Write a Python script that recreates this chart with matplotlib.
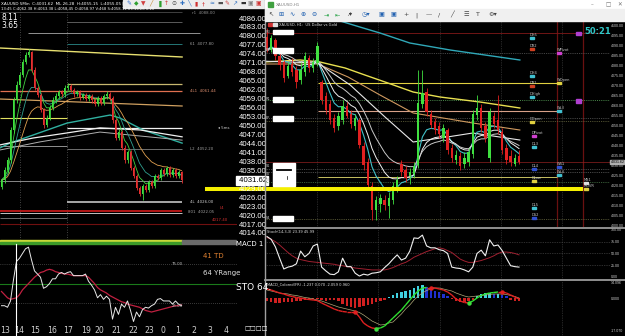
import matplotlib
matplotlib.use('Agg')
import matplotlib.pyplot as plt
import numpy as np
import pandas as pd
from matplotlib.patches import Rectangle
from matplotlib.lines import Line2D
from matplotlib.collections import LineCollection
import matplotlib.transforms as mtrans

plt.rcParams['font.family'] = ['DejaVu Sans']

W, H = 625, 336

# ======================= DATA =======================
# ---- left window: XAUUSD M5 ----
left_open = [4029.5, 4031.7, 4035.1, 4038.4, 4048.5, 4058.5, 4063.6, 4066.9, 4071.3, 4073.6,
             4074.6, 4068.6, 4062.6, 4060.2, 4055.2, 4050.2, 4052.5, 4055.9, 4058.5, 4059.9,
             4061.2, 4060.5, 4062.6, 4063.2, 4061.9, 4060.5, 4061.2, 4059.5, 4060.2, 4058.9,
             4059.9, 4058.5, 4057.2, 4059.2, 4057.5, 4059.9, 4060.5, 4059.2, 4051.8, 4045.8,
             4047.8, 4042.5, 4038.4, 4041.1, 4035.8, 4033.1, 4029.1, 4027.1, 4029.7, 4028.4,
             4031.1, 4029.7, 4033.1, 4032.4, 4035.1, 4033.8, 4035.8, 4033.4, 4035.1, 4033.1, 4034.4]
left_close = [4031.7, 4035.1, 4038.4, 4048.5, 4058.5, 4063.6, 4066.9, 4071.3, 4073.6, 4074.6,
              4068.6, 4062.6, 4060.2, 4055.2, 4050.2, 4052.5, 4055.9, 4058.5, 4059.9, 4061.2,
              4060.5, 4062.6, 4063.2, 4061.9, 4060.5, 4061.2, 4059.5, 4060.2, 4058.9, 4059.9,
              4058.5, 4057.2, 4059.2, 4057.5, 4059.9, 4060.5, 4059.2, 4051.8, 4045.8, 4047.8,
              4042.5, 4038.4, 4041.1, 4035.8, 4033.1, 4029.1, 4027.1, 4029.7, 4028.4, 4031.1,
              4029.7, 4033.1, 4032.4, 4035.1, 4033.8, 4035.8, 4033.4, 4035.1, 4033.1, 4034.4, 4031.6]
left_high = [4032.5, 4036.0, 4039.5, 4049.5, 4059.5, 4064.8, 4068.0, 4072.3, 4074.6, 4075.6,
             4075.0, 4069.5, 4063.3, 4060.8, 4055.8, 4053.4, 4056.8, 4059.4, 4060.8, 4062.0,
             4061.9, 4063.4, 4064.2, 4063.8, 4062.6, 4062.0, 4061.9, 4061.0, 4060.9, 4060.7,
             4060.6, 4059.3, 4060.0, 4059.9, 4060.6, 4061.5, 4061.2, 4059.9, 4052.5, 4048.7,
             4048.6, 4043.3, 4041.9, 4041.8, 4036.6, 4033.9, 4029.9, 4030.5, 4030.5, 4031.9,
             4031.9, 4033.9, 4033.9, 4035.9, 4035.9, 4036.6, 4036.4, 4035.9, 4035.9, 4035.2, 4034.9]
left_low = [4028.6, 4030.9, 4034.2, 4037.6, 4047.6, 4057.6, 4062.8, 4066.1, 4070.5, 4072.8,
            4067.8, 4061.8, 4059.4, 4054.4, 4049.2, 4049.6, 4051.8, 4055.1, 4057.7, 4059.1,
            4059.7, 4059.7, 4062.0, 4061.1, 4059.7, 4059.8, 4058.7, 4058.9, 4058.1, 4058.1,
            4057.7, 4056.4, 4056.6, 4056.7, 4056.8, 4059.0, 4058.4, 4051.0, 4045.0, 4045.0,
            4041.7, 4037.6, 4037.6, 4035.0, 4032.3, 4028.3, 4026.3, 4025.0, 4027.6, 4027.6,
            4028.9, 4028.9, 4031.6, 4031.6, 4033.0, 4033.0, 4032.6, 4032.6, 4032.3, 4032.3, 4030.8]
left_stoch_k = [22, 22, 20, 28, 55, 78, 82, 88, 94, 96,
                80, 66, 62, 58, 44, 46, 50, 56, 56, 62,
                64, 62, 64, 65, 60, 60, 60, 60, 62, 53,
                48, 42, 32, 36, 30, 34, 30, 5, 20, 11,
                24, 20, 28, 16, 2, 14, 8, 17, 20, 19,
                22, 24, 30, 31, 28, 28, 28, 24, 28, 24, 22]
left_stoch_d = [40, 36, 32, 30, 31, 32, 36, 42, 46, 50,
                54, 58, 61, 64, 65, 67, 68, 67, 65, 64,
                63, 62, 62, 61, 60, 60, 60, 60, 60, 58,
                54, 50, 45, 42, 40, 38, 35, 33, 31, 29,
                27, 26, 24, 23, 22, 21, 20, 18, 16, 15,
                14, 15, 16, 17, 18, 19, 20, 21, 22, 22, 23]
# long moving averages / trend lines of the left window (bar index, price)
left_ma_teal_idx = [-0.5, 2.8, 10.5, 21.8, 36.2, 39.5, 47.2, 60.2]
left_ma_teal = [4042.5, 4044.1, 4046.8, 4050.8, 4053.5, 4052.5, 4048.5, 4044.1]
left_ma_white_idx = [-0.5, 10.5, 21.8, 32.8, 46.2, 60.2]
left_ma_white = [4043.5, 4045.8, 4047.5, 4049.2, 4048.5, 4046.2]
left_ma_gray_idx = [-0.5, 12.8, 32.8, 60.2]
left_ma_gray = [4041.8, 4044.5, 4047.8, 4045.1]
left_trend_yellow = [4075.95, 4072.94]
left_trend_tan = [4058.87, 4056.53]
# horizontal levels: price, from bar, to bar, colour, width
left_levels = [
    (4088.00, -0.5, 60.2, '#4a4a4a', 0.6),
    (4084.66, 21.8, 60.2, '#6a6a6a', 0.6),
    (4080.98, 8.8, 66.2, '#a8a8a8', 0.6),
    (4077.29, 21.8, 60.2, '#2a8a8a', 0.6),
    (4063.90, 21.8, 60.2, '#c8b870', 0.9),
    (4061.55, -0.5, 60.2, '#e07050', 0.9),
    (4052.51, -0.5, 21.8, '#e0e060', 0.8),
    (4049.16, 21.8, 60.2, '#f0f0f0', 0.9),
    (4043.13, -0.5, 21.8, '#909090', 0.7),
    (4042.13, 21.8, 60.2, '#808080', 0.6),
    (4031.41, -0.5, 60.2, '#888888', 0.7),
    (4024.38, 21.8, 60.2, '#a8a8a8', 1.4),
    (4021.37, -0.5, 60.2, '#c01818', 1.3),
    (4020.70, -0.5, 60.2, '#e0e0e0', 0.6),
    (4019.02, -0.5, 21.8, '#808080', 0.6),
    (4017.01, -0.5, 78.5, '#701010', 0.8),
]
# 4032.00 is hidden behind the current-price box in the screenshot
left_price_ticks = [4086, 4083, 4080, 4077, 4074, 4071, 4068, 4065, 4062, 4059, 4056, 4053,
                    4050, 4047, 4044, 4041, 4038, 4035, 4029, 4026, 4023, 4020, 4017, 4014]
left_current_price = 4031.62
left_time_labels = ['13', '14', '15', '16', '17', '19', '20', '21', '22', '23', '0', '1', '2', '3', '4']
left_time_pos = [1.3, 5.8, 11.2, 16.8, 22.2, 28.2, 32.5, 38.2, 43.8, 49.2, 53.8, 58.8, 64.2, 69.5, 74.8]

# ---- right window: XAUUSD H1 ----
right_open = [4094.1, 4087.6, 4092.6, 4084.6, 4081.6, 4074.6, 4080.6, 4077.6, 4072.6, 4076.6,
              4083.6, 4078.6, 4081.1, 4071.6, 4064.6, 4060.6, 4053.6, 4049.6, 4052.6, 4059.6,
              4055.6, 4049.6, 4052.6, 4039.6, 4031.6, 4019.6, 4007.6, 4010.6, 4012.6, 4009.6,
              4012.6, 4018.6, 4030.6, 4027.6, 4024.6, 4025.6, 4030.1, 4060.6, 4066.6, 4055.6,
              4051.6, 4049.6, 4043.6, 4047.6, 4038.6, 4032.6, 4034.6, 4030.6, 4031.6, 4035.6,
              4055.1, 4058.6, 4049.6, 4033.6, 4054.6, 4052.6, 4046.6, 4038.6, 4034.6, 4030.6, 4034.6]
right_close = [4087.6, 4093.6, 4084.6, 4080.1, 4073.6, 4079.6, 4076.6, 4071.6, 4077.6, 4084.6,
               4078.6, 4081.6, 4089.6, 4062.6, 4057.6, 4052.6, 4048.6, 4054.6, 4059.6, 4054.6,
               4050.6, 4053.6, 4040.1, 4030.1, 4020.1, 4007.6, 4012.6, 4013.6, 4010.1, 4013.6,
               4019.6, 4022.6, 4026.6, 4023.6, 4026.6, 4029.6, 4061.1, 4066.1, 4056.6, 4050.1,
               4047.6, 4045.6, 4048.6, 4037.6, 4033.6, 4035.1, 4029.6, 4033.6, 4036.6, 4055.6,
               4058.6, 4048.6, 4043.6, 4056.6, 4050.6, 4047.6, 4037.6, 4032.6, 4031.6, 4033.6, 4031.6]
right_high = [4098.6, 4095.1, 4093.6, 4086.6, 4082.6, 4081.6, 4083.6, 4079.6, 4081.6, 4086.6,
              4085.1, 4083.6, 4091.6, 4072.6, 4066.6, 4062.6, 4055.6, 4056.6, 4062.6, 4061.6,
              4057.6, 4055.6, 4053.6, 4041.6, 4033.6, 4021.6, 4014.6, 4015.6, 4015.1, 4016.6,
              4021.6, 4024.6, 4032.6, 4029.6, 4028.6, 4031.6, 4077.6, 4077.6, 4068.6, 4057.6,
              4053.6, 4051.6, 4050.6, 4048.6, 4040.6, 4037.6, 4036.6, 4036.6, 4038.6, 4057.6,
              4065.1, 4060.6, 4051.6, 4058.6, 4056.6, 4065.1, 4048.6, 4040.6, 4037.6, 4035.6, 4037.6]
right_low = [4086.6, 4086.6, 4082.6, 4077.6, 4071.6, 4073.6, 4074.6, 4068.6, 4070.6, 4074.6,
             4076.6, 4076.6, 4079.6, 4060.6, 4055.6, 4050.6, 4046.6, 4047.6, 4050.6, 4053.6,
             4048.6, 4047.6, 4038.6, 4027.6, 4017.6, 4002.6, 4002.6, 4006.6, 4007.6, 4003.6,
             4010.6, 4016.6, 4024.6, 4021.6, 4020.6, 4023.6, 4028.6, 4058.6, 4054.6, 4048.6,
             4045.6, 4043.6, 4041.6, 4035.6, 4031.6, 4030.6, 4027.6, 4028.6, 4029.6, 4033.6,
             4052.6, 4046.6, 4041.6, 4031.6, 4048.6, 4045.6, 4035.6, 4030.6, 4029.6, 4029.6, 4030.6]
right_ma_teal_idx = [17.4, 22.1, 26.9, 34.0, 43.6, 60.2]
right_ma_teal = [4102.1, 4099.1, 4096.1, 4091.1, 4087.6, 4082.6]
right_ma_yellow_idx = [-0.5, 7.9, 12.6, 18.6, 23.3, 28.1, 34.8, 41.2, 50.7, 60.2]
right_ma_yellow = [4081.6, 4082.6, 4081.6, 4078.6, 4075.1, 4071.6, 4066.6, 4064.1, 4061.6, 4058.6]
right_ma_tan_idx = [-0.5, 12.1, 19.3, 26.9, 34.8, 49.0, 60.2]
right_ma_tan = [4080.6, 4080.6, 4074.1, 4065.1, 4056.1, 4051.1, 4047.6]
right_ma_white_idx = [-0.5, 12.1, 19.8, 28.1, 34.8, 42.9, 49.0, 60.2]
right_ma_white = [4082.0, 4081.1, 4070.1, 4054.1, 4041.6, 4044.1, 4046.1, 4042.6]
# horizontal levels: price, from bar, to bar, colour, width, dotted
right_levels = [
    (4096.1, -0.5, 82.2, '#801818', 0.6, False),
    (4086.1, -0.5, 82.2, '#5a5a5a', 0.6, True),
    (4071.1, 12.1, 69.0, '#e0d040', 0.8, False),
    (4062.6, -0.5, 82.2, '#4a8a4a', 0.7, True),
    (4057.1, 12.1, 69.0, '#d8a088', 0.8, False),
    (4053.6, -0.5, 82.2, '#5a5a5a', 0.6, True),
    (4052.1, -0.5, 82.2, '#6a6a40', 0.6, True),
    (4031.6, -0.5, 82.2, '#902020', 0.5, False),
    (4028.1, -0.5, 82.2, '#606060', 0.6, True),
    (4026.6, -0.5, 82.2, '#606060', 0.6, True),
    (4024.1, 12.1, 69.0, '#c8c060', 0.7, False),
    (4021.6, -0.5, 82.2, '#4a7a4a', 0.6, True),
    (4003.1, -0.5, 82.2, '#6a6a40', 0.6, True),
]
right_yellow_level = 4018.1
right_stoch_k = [86, 80, 64, 40, 17, 21, 23, 28, 55, 43,
                 50, 66, 70, 21, 13, 6, 5, 11, 40, 22,
                 22, 8, 2, 6, 4, 8, 9, 11, 20, 28,
                 38, 47, 36, 40, 55, 83, 82, 89, 66, 62,
                 62, 58, 56, 50, 21, 19, 18, 15, 11, 21,
                 50, 57, 45, 79, 66, 68, 56, 40, 24, 22, 21]
right_stoch_d = [84, 80, 75, 68, 60, 52, 45, 40, 37, 35,
                 33, 32, 31, 30, 29, 28, 27, 25, 24, 22,
                 21, 19, 18, 17, 16, 15, 15, 15, 15, 17,
                 20, 24, 28, 31, 36, 42, 46, 50, 54, 57,
                 60, 62, 60, 56, 52, 45, 38, 34, 31, 31,
                 33, 35, 38, 41, 45, 50, 53, 53, 52, 50, 47]
macd_hist = [-3, -4, -5, -5, -4, -4, -4, -3, -3, -2,
             -1, -0.5, -1, -2, -3, -2, -2, -3, -6, -8,
             -9, -10, -9, -8, -7, -6, -4, -3, -2, 1,
             3, 5, 6, 7, 8, 10, 12, 13, 11, 9,
             7, 6, 4, 2, -1, -3, -4, -4, -3, -2,
             2, 4, 5, 5, 4, 4, 3, 2, -2, -3, -3]
macd_main = [9, 8, 6.5, 5, 4, 2.5, 1.5, 0.5, 0, -1,
             -1.5, -2, -2.5, -5, -7, -9, -11, -12.5, -13.5, -14,
             -14, -14, -19, -25, -28, -30, -30.5, -30, -28, -24,
             -20, -16, -12, -7, -2, 3, 7, 10, 10.5, 10.5,
             10, 9, 8, 6, 3, -1, -3, -4.5, -5, -3,
             0, 2.5, 4, 5, 5.5, 6, 6, 5, 3, 1, -1]
macd_signal = [8, 7, 6, 5, 4.5, 4, 3, 2.5, 1.5, 0.5,
               0, -1, -2, -3, -4.5, -6, -7.5, -9, -10, -11,
               -12, -13, -14.5, -17, -20, -23, -25, -27, -26.5, -25,
               -24, -20, -16, -11, -7, -2, 2, 5, 7.5, 9,
               10, 10, 9, 8, 7, 5, 3.5, 2, 1, 1.5,
               2, 2.5, 3, 3.5, 4, 4, 4, 3.5, 2.5, 1.5, 0]
right_price_ticks = list(range(4000, 4101, 5))
right_grid_idx = [11.9, 26.4, 41.2, 55.7, 70.2]
right_vlines_red = [69.05, 75.2]

# ======================= HELPERS =======================
fig = plt.figure(figsize=(6.25, 3.36), dpi=100, facecolor='black')


def fr(x0, y0, x1, y1):
    return [x0 / W, 1 - y1 / H, (x1 - x0) / W, (y1 - y0) / H]


def ftext(x, y, s, **kw):
    kw.setdefault('va', 'center')
    kw.setdefault('ha', 'left')
    fig.text(x / W, 1 - y / H, s, **kw)


def frect(x0, y0, x1, y1, **kw):
    fig.add_artist(Rectangle((x0 / W, 1 - y1 / H), (x1 - x0) / W, (y1 - y0) / H,
                             transform=fig.transFigure, **kw))


def fline(xs, ys, **kw):
    fig.add_artist(Line2D([x / W for x in xs], [1 - y / H for y in ys],
                          transform=fig.transFigure, **kw))


def clean(ax):
    ax.set_facecolor('none')
    for s in ax.spines.values():
        s.set_visible(False)
    ax.tick_params(length=0)
    ax.set_xticks([])
    ax.set_yticks([])


def candles(ax, o, h, l, c, up, dn, width, lw):
    o, h, l, c = map(np.asarray, (o, h, l, c))
    idx = np.arange(len(c))
    col = np.where(c >= o, up, dn)
    ax.vlines(idx, l, h, colors=col, lw=lw, zorder=4)
    body = np.maximum(np.abs(c - o), 0.3)
    ax.bar(idx, body, bottom=np.minimum(o, c), width=width, color=col, lw=0, zorder=4)


PRICE_FONT = ['Liberation Sans Narrow', 'Liberation Sans', 'DejaVu Sans']
SMALL_FONT = ['Liberation Sans', 'DejaVu Sans']
RX1 = 610   # right edge of the right-window plotting area (pixels)

# ======================= LEFT WINDOW =======================
axL = fig.add_axes(fr(0, 8, 237, 240))
clean(axL)
axL.set_xlim(-0.5, 78.5)
axL.set_ylim(4011.65, 4089.35)
axL.yaxis.tick_right()
axL.set_yticks(left_price_ticks)
axL.set_yticklabels([f"{v:.2f}" for v in left_price_ticks])
axL.tick_params(axis='y', length=0, pad=1.2, labelcolor='white', labelsize=5.6)
for t in axL.get_yticklabels():
    t.set_family(PRICE_FONT)

for xv in [6.2, 21.8]:
    axL.axvline(xv, color='#5a5a5a', lw=0.6, ls=(0, (1, 2)), zorder=1)
for p, a, b, col, lw in left_levels:
    axL.hlines(p, a, b, color=col, lw=lw, zorder=2)
axL.plot([-0.5, 60.2], left_trend_yellow, color='#e8e070', lw=1.0, zorder=2)
axL.plot([-0.5, 60.2], left_trend_tan, color='#d0a060', lw=0.9, zorder=2)
axL.plot(left_ma_teal_idx, left_ma_teal, color='#30b0a0', lw=1.0, zorder=3)
axL.plot(left_ma_white_idx, left_ma_white, color='#f0f0f0', lw=0.9, zorder=3)
axL.plot(left_ma_gray_idx, left_ma_gray, color='#b0b0b0', lw=0.7, zorder=3)
lc = pd.Series(left_close)
xi = np.arange(len(left_close))
axL.plot(xi, lc.ewm(span=5, adjust=False).mean(), color='#40d040', lw=0.6, zorder=3)
axL.plot(xi, lc.ewm(span=9, adjust=False).mean(), color='#30a090', lw=0.6, zorder=3)
axL.plot(xi, lc.ewm(span=16, adjust=False).mean(), color='#e0a050', lw=0.6, zorder=3)
candles(axL, left_open, left_high, left_low, left_close, '#3ee03e', '#e83030', 0.6, 0.6)
axL.text(1.0, left_current_price, f' {left_current_price:.2f}',
         transform=mtrans.blended_transform_factory(axL.transAxes, axL.transData),
         fontsize=5.6, color='black', va='center', ha='left', family=PRICE_FONT,
         bbox=dict(boxstyle='square,pad=0.1', fc='white', ec='white'), zorder=10, clip_on=False)

# left level labels
for (x, y, s, c) in [(192, 13, 'r1  4088.00', '#909090'), (190, 44, '61  4077.80', '#a0a0a0'),
                     (190, 91, '4L1  4061.44', '#e09070'), (190, 149, 'L2  4052.20', '#a0a0a0'),
                     (190, 202, '4L  4026.00', '#d0d0d0'), (188, 212, '801  4022.05', '#a0a0a0'),
                     (220, 208, 'L4', '#d03030'), (212, 220, '4017.40', '#d03030'),
                     (218, 128, '◂ 5ms', '#d0d0d0')]:
    ftext(x, y, s, fontsize=2.8, color=c)

# header
ftext(1, 3.5, 'XAUUSD 5Min  C:4031.62  ML 26.28  H:4055.15  L:4055.05 |', fontsize=3.0, color='white')
ftext(1, 9.5, '13:45 C:4062.38 H:4063.38 L:4058.45 O:4058.97 V:468 S:4058.11 07/19/26 0.20',
      fontsize=2.7, color='white')
ftext(1, 17, '8.11', fontsize=5.5, color='white')
ftext(1, 25, '3.65', fontsize=5.5, color='white')
frect(123, 0, 264, 7.5, color='#ececec', zorder=2)
for k, (g, c) in enumerate([('✎', '#2a6ad0'), ('◆', '#30a030'), ('▼', '#d04040'), ('╱', '#c08020'),
                            ('▐', '#30a030'), ('↑', '#d03030'), ('⊙', '#404040'), ('✚', '#3070c0'),
                            ('╲', '#3070c0'), ('▮', '#d03030'), ('†', '#d03030'), ('≈', '#3070c0'),
                            ('▬', '#505050'), ('✎', '#d04040'), ('↗', '#3070c0'), ('▬', '#303030'),
                            ('▣', '#808080'), ('▣', '#d03030')]):
    ftext(126 + k * 7.6, 3.8, g, fontsize=4.2, color=c, zorder=3)

# left stochastic
axLS = fig.add_axes(fr(0, 244, 237, 325))
clean(axLS)
axLS.set_xlim(-0.5, 78.5)
axLS.set_ylim(-2.4, 100)
axLS.axhline(75, color='#707070', lw=0.5, ls=(0, (1, 2)))
axLS.axhline(25, color='#707070', lw=0.5, ls=(0, (1, 2)))
axLS.axhline(50, color='#1a7a1a', lw=0.8)
axLS.plot(np.arange(len(left_stoch_d)), left_stoch_d, color='#c02040', lw=0.9)
axLS.plot(np.arange(len(left_stoch_k)), left_stoch_k, color='#e8e8e8', lw=0.7)
axLS.set_xticks(left_time_pos)
axLS.set_xticklabels(left_time_labels)
axLS.tick_params(axis='x', length=0, pad=0.8, labelcolor='#d0d0d0', labelsize=5.6)
ftext(172, 264, '75.00', fontsize=2.8, color='#c0c0c0')
ftext(172, 306, '25.00', fontsize=2.8, color='#c0c0c0')
ftext(203, 256, '41 TD', fontsize=5, color='#e08030')
ftext(203, 273, '64 YRange', fontsize=5, color='#e0e0e0')
ftext(236, 288, 'STO 64.', fontsize=6.5, color='white')
ftext(236, 243.5, 'MACD 1', fontsize=5, color='white')
ftext(244, 329, '□□□□', fontsize=4.5, color='white')
frect(0, 239.5, 182, 241.5, color='#c8d838', zorder=2)
frect(0, 241.5, 182, 244, color='#3c9a28', zorder=2)
frect(182, 239.5, 236, 244, color='#6a6a6a', zorder=2)
fline([16, 16], [244, 336], color='white', lw=0.8)

# ======================= RIGHT WINDOW =======================
fline([264.5, 264.5], [0, 336], color='#a0a0a0', lw=1.0)
frect(265, 0, 625, 9, color='white', zorder=2)
frect(267.5, 2, 272.5, 7, color='#40a040', zorder=3)
ftext(276, 4.5, 'XAUUSD,H1', fontsize=3, color='#808080', zorder=3)
for x, g in [(591, '–'), (605, '□'), (617, '✕')]:
    ftext(x, 4.5, g, fontsize=4, color='#707070', zorder=3)
frect(265, 9, 625, 21, color='#f0f0f0', zorder=2)
for x, g, c in [(268, '↖', '#404040'), (278, '⊞', '#2060b0'), (289, '∿', '#2060b0'), (300, '⊕', '#2060b0'),
                (311, '⊖', '#2060b0'), (324, '⇥', '#20a040'), (335, '⇤', '#20a040'), (348, '⁄▾', '#404040'),
                (362, '◷▾', '#2060b0'), (378, '▣', '#2060b0'), (390, '▣', '#2060b0'), (403, '+', '#404040'),
                (415, '|', '#404040'), (426, '—', '#404040'), (438, '/', '#404040'), (450, '╱', '#404040'),
                (463, '☰', '#404040'), (476, 'T', '#404040'), (488, '⚙▾', '#404040')]:
    ftext(x, 15, g, fontsize=4.5, color=c, zorder=3)

XR = (-0.476, -0.476 + (RX1 - 265) / 4.2)
axR = fig.add_axes(fr(265, 21, RX1, 227))
clean(axR)
axR.set_xlim(*XR)
axR.set_ylim(3999.1, 4102.1)
axR.yaxis.tick_right()
axR.set_yticks(right_price_ticks)
axR.set_yticklabels([f"{v:.2f}" for v in right_price_ticks])
axR.tick_params(axis='y', length=0, pad=0.8, labelcolor='#d0d0d0', labelsize=2.6)
for t in axR.get_yticklabels():
    t.set_family(SMALL_FONT)
for xv in right_grid_idx:
    axR.axvline(xv, color='#4a4a4a', lw=0.5, ls=(0, (1, 1.5)), zorder=1)
for xv in right_vlines_red:
    axR.axvline(xv, color='#6a1010', lw=0.9, zorder=1)
for p, a, b, col, lw, dot in right_levels:
    axR.hlines(p, a, b, color=col, lw=lw, ls=(0, (1, 1.2)) if dot else '-', zorder=2)
axR.plot(right_ma_teal_idx, right_ma_teal, color='#30a8b8', lw=1.0, zorder=3)
axR.plot(right_ma_yellow_idx, right_ma_yellow, color='#e8e050', lw=1.0, zorder=3)
axR.plot(right_ma_tan_idx, right_ma_tan, color='#d09a60', lw=0.8, zorder=3)
axR.plot(right_ma_white_idx, right_ma_white, color='#e8e8e8', lw=0.8, zorder=3)
rc = pd.Series(right_close)
ri = np.arange(len(right_close))
axR.plot(ri, rc.ewm(span=6, adjust=False).mean(), color='#40c0c8', lw=0.8, zorder=3)
axR.plot(ri, rc.ewm(span=10, adjust=False).mean(), color='#f0f0f0', lw=0.7, zorder=3)
axR.plot(ri, rc.ewm(span=16, adjust=False).mean(), color='#c8c8c8', lw=0.7, zorder=3)
candles(axR, right_open, right_high, right_low, right_close, '#40e040', '#e02020', 0.55, 0.6)
axR.hlines(right_yellow_level, -0.5, 75.2, color='#f5f000', lw=2.9, zorder=6)
fline([207, 265], [189, 189], color='#f5f000', lw=2.9, zorder=-1)
axR.text(1.0, 4031.6, ' 4031.62', transform=mtrans.blended_transform_factory(axR.transAxes, axR.transData),
         fontsize=2.6, color='black', va='center', ha='left', zorder=10, clip_on=False, family=SMALL_FONT,
         bbox=dict(boxstyle='square,pad=0.12', fc='#b0b0b0', ec='#b0b0b0'))

# left label boxes in right chart
for (y0, y1) in [(30, 34), (48, 53), (97, 102), (116, 121), (216, 221)]:
    frect(273, y0, 293, y1, color='white', zorder=5)
frect(273, 163, 295, 186, color='white', zorder=5)
fline([277, 291], [170, 170], color='black', lw=1.3, zorder=6)
fline([287, 287], [176, 179], color='black', lw=0.5, zorder=6)
for y, s in [(32, 'R3'), (50, 'R2'), (99, 'R1'), (118, 'PP'), (166, 'S1'), (174, 'S2'), (180, 'S3'), (218, 'S4')]:
    ftext(266, y, s, fontsize=2.5, color='#c0c0c0', zorder=5)
frect(268, 22.5, 272, 26, color='#d03030', zorder=5)
frect(273, 22.5, 277, 26, color='#e0e0e0', zorder=5)
ftext(279, 24.5, 'XAUUSD, H1:  US Dollar vs Gold', fontsize=2.6, color='#e0e0e0', zorder=5)

# right level labels with markers
for x, y, s, c in [(530, 35, 'DH5', '#40c0d0'), (530, 46, 'DR2', '#d04020'), (530, 73, 'DH4', '#40c0d0'),
                   (530, 83, 'DR1', '#d04020'), (530, 94, 'DHigh', '#40c0d0'), (530, 119, 'DOpen', '#e0d040'),
                   (532, 133, 'DPivot', '#d040d0'), (532, 144, 'DL3', '#40c0d0'), (532, 166, 'DL4', '#3050d0'),
                   (532, 178, 'DLow', '#e0d040'), (532, 205, 'DL5', '#40c0d0'), (532, 215, 'DS2', '#3050d0'),
                   (557, 50, 'WPivot', '#d040d0'), (557, 80, 'WOpen', '#e0d040'), (557, 108, 'WL3', '#40c0d0'),
                   (557, 164, 'WS1', '#3050d0'), (557, 172, 'WL4', '#40c0d0'), (584, 180, 'MS1', '#e0e0e0'),
                   (584, 186, 'MOVR', '#e0d040')]:
    ftext(x, y, s, fontsize=2.6, color='#c8c8c8', zorder=5)
    frect(x, y + 1.8, x + 4, y + 3.6, color=c, zorder=5)
frect(576, 31.5, 581, 34.5, color='#b040d0', zorder=5)
frect(576, 98.5, 581, 103, color='#b040d0', zorder=5)
ftext(584, 32, '50:21', fontsize=6.0, color='#30c8c8', fontweight='bold', zorder=5)

# separators
fline([265, 625], [227.5, 227.5], color='#9a9a9a', lw=1.3)
fline([265, 625], [280, 280], color='#9a9a9a', lw=1.3)

# right stochastic
axRS = fig.add_axes(fr(265, 229, RX1, 279))
clean(axRS)
axRS.set_xlim(*XR)
axRS.set_ylim(-4.3, 102)
for lv in [25, 50, 75]:
    axRS.axhline(lv, color='#5a5a5a', lw=0.5, ls=(0, (1, 1.5)))
for xv in right_grid_idx:
    axRS.axvline(xv, color='#4a4a4a', lw=0.5, ls=(0, (1, 1.5)))
axRS.plot(ri, right_stoch_d, color='#a02030', lw=0.7)
axRS.plot(ri, right_stoch_k, color='#f0f0f0', lw=0.8)
axRS.yaxis.tick_right()
axRS.set_yticks([100, 75, 50, 25, 0])
axRS.set_yticklabels(['100.00', '75.00', '50.00', '25.00', '0.00'])
axRS.tick_params(axis='y', length=0, pad=0.8, labelcolor='#d0d0d0', labelsize=2.6)
for t in axRS.get_yticklabels():
    t.set_family(SMALL_FONT)
ftext(267, 232, 'Stoch(14,3,3) 23.39 45.99', fontsize=2.6, color='#e0e0e0')

# right MACD
axRM = fig.add_axes(fr(265, 281, RX1, 336))
clean(axRM)
axRM.set_xlim(*XR)
axRM.set_ylim(-38, 17)
for xv in right_grid_idx:
    axRM.axvline(xv, color='#4a4a4a', lw=0.5, ls=(0, (1, 1.5)))
hist = np.asarray(macd_hist, dtype=float)
prev = np.concatenate([[hist[0]], hist[:-1]])
hcol = np.where(hist > 0, np.where(hist >= prev, '#40d0e0', '#2030d0'), '#d02020')
axRM.bar(ri, hist, width=0.55, color=hcol, lw=0, zorder=2)
axRM.plot(ri, macd_signal, color='#b0a878', lw=0.5, zorder=3)
mm = np.asarray(macd_main, dtype=float)
segs = [[(i, mm[i]), (i + 1, mm[i + 1])] for i in range(len(mm) - 1)]
scol = ['#30e030' if mm[i + 1] > mm[i] else '#e02020' for i in range(len(mm) - 1)]
axRM.add_collection(LineCollection(segs, colors=scol, linewidths=1.0, zorder=4))
d = np.diff(mm)
for i in range(1, len(d)):
    if d[i - 1] <= 0 < d[i]:
        axRM.plot(i, mm[i], 'o', color='#40e040', ms=2.2, zorder=5)
    elif d[i - 1] >= 0 > d[i]:
        axRM.plot(i, mm[i], 'o', color='#e02020', ms=2.2, zorder=5)
axRM.yaxis.tick_right()
axRM.set_yticks([15, 0, -33])
axRM.set_yticklabels(['14.096', '0.000', '-17.070'])
axRM.tick_params(axis='y', length=0, pad=0.8, labelcolor='#d0d0d0', labelsize=2.6)
for t in axRM.get_yticklabels():
    t.set_family(SMALL_FONT)
ftext(267, 284, 'MACD_Colored(FR) -1.237 0.070 -2.059 0.960', fontsize=2.6, color='#e0e0e0')

fig.savefig('out.png', dpi=100, facecolor='black')
